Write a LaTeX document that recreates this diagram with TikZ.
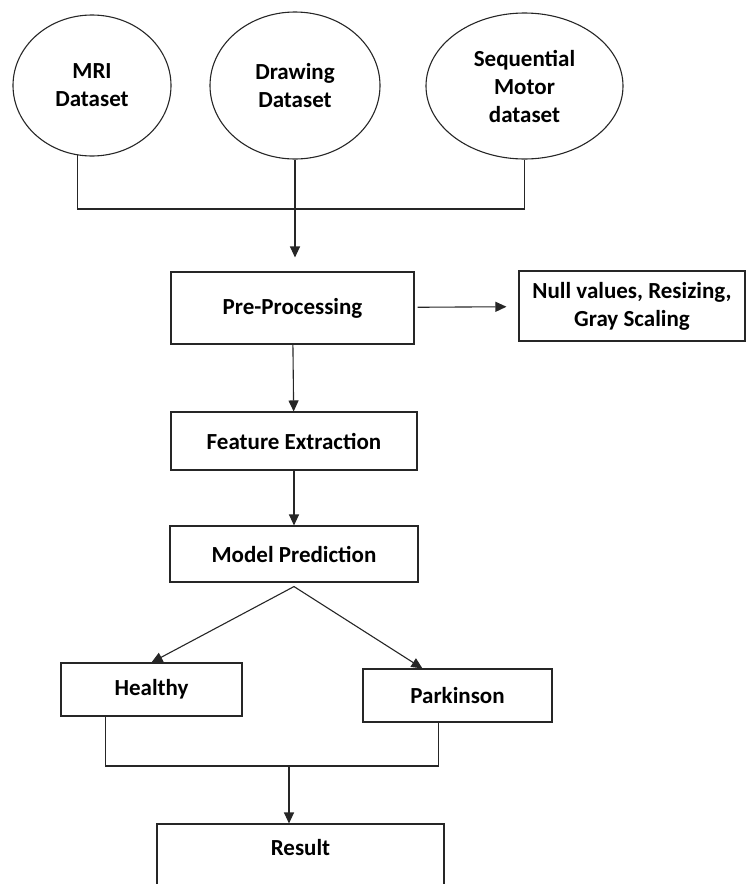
\documentclass[tikz,border=0pt]{standalone}
\usepackage{fontspec}
\setmainfont{Carlito}
\usetikzlibrary{shapes.geometric,arrows.meta}
\tikzset{
	dataset/.style={ellipse,draw=black!85,text=black,line width=1.1pt,inner sep=0pt,align=center,font=\bfseries\fontsize{23}{28}\selectfont},
	stagebox/.style={rectangle,draw=black!85,text=black,line width=1.1pt,inner sep=0pt,align=center,font=\bfseries\fontsize{23}{28}\selectfont},
	flowarrow/.style={-{Triangle[length=11pt,width=10pt]},line width=1.1pt,black!85},
	wire/.style={line width=1.1pt,black!85}
}
\begin{document}
\begin{tikzpicture}[x=1pt,y=-1pt]
				\useasboundingbox (0,0) rectangle (747,884);
				\node[dataset,minimum width=158pt,minimum height=141pt] (mri) at (92,85.5){MRI\\Dataset};
				\node[dataset,minimum width=170pt,minimum height=147pt] (drawing) at (295,85.5){Drawing\\Dataset};
				\node[dataset,minimum width=197pt,minimum height=146pt] (seq) at (524.5,86){Sequential\\Motor\\dataset};
				\coordinate (bus) at (295,209);
				\draw[wire] (mri.258)|-(bus)-|(seq.south);
				\draw[wire] (drawing)--(bus);
				\node[stagebox,minimum width=243pt,minimum height=72pt] (pre) at (292.5,308){Pre-Processing};
				\node[stagebox,minimum width=226pt,minimum height=70pt] (null) at (632,306){Null values, Resizing,\\Gray Scaling};
				\node[stagebox,minimum width=246pt,minimum height=58pt] (feat) at (294,441){Feature Extraction};
				\node[stagebox,minimum width=248pt,minimum height=56pt] (model) at (294,554){Model Prediction};
				\node[stagebox,minimum width=181pt,minimum height=53pt] (healthy) at (151.5,689.5){Healthy};
				\node[stagebox,minimum width=189pt,minimum height=53pt] (park) at (457.5,695.5){Parkinson};
				\node[stagebox,minimum width=287pt,text height=31pt,text depth=50pt,anchor=base] (result) at (300.5,855){Result};
				\draw[flowarrow,shorten >=14pt] (bus)--(bus|-pre.north);
				\draw[flowarrow,shorten <=3pt,shorten >=12pt] (pre)--(null);
				\draw[flowarrow] (pre)--(feat);
				\draw[flowarrow] (feat)--(model);
				\coordinate (split) at ([yshift=-4pt]model.south);
				\draw[flowarrow] (split)--(healthy.north);
				\draw[flowarrow] (split)--([xshift=60pt]park.north west);
				\coordinate (join) at (289,766);
				\draw[wire] ([xshift=45pt]healthy.south west)|-(join)-|([xshift=76pt]park.south west);
				\draw[flowarrow] (join)--(join|-result.north);
			\end{tikzpicture}
\end{document}
